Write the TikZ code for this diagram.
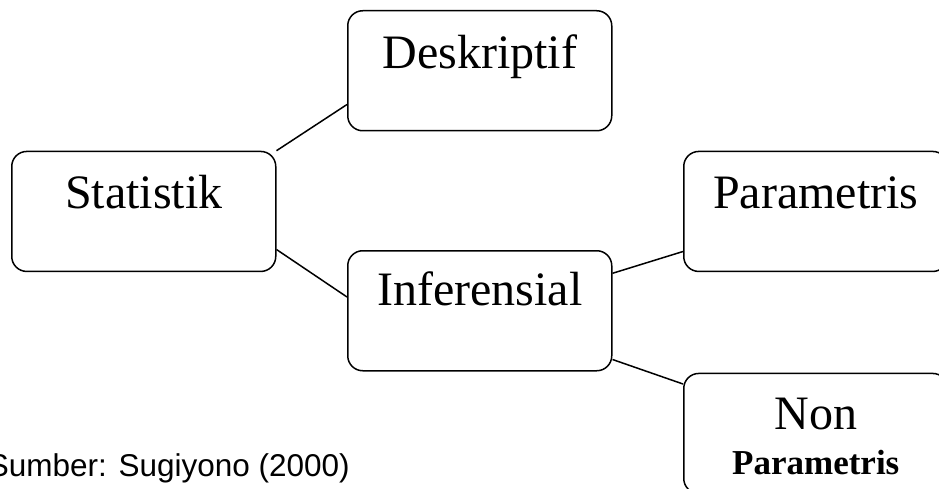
\documentclass[tikz,border=0pt]{standalone}
\usepackage{fontspec}
\setmainfont{Liberation Serif}
\newfontfamily\arialfont{Liberation Sans}
\begin{document}
\begin{tikzpicture}[x=1pt,y=-1pt,
  box/.style={draw=black, line width=1.5pt, rounded corners=15pt, minimum width=264pt, minimum height=120pt, inner sep=0pt, anchor=north west, fill=white},
  lbl/.style={anchor=base, inner sep=0pt, font=\fontsize{48}{58}\selectfont},
  sublbl/.style={anchor=base, inner sep=0pt, font=\fontsize{35}{40}\selectfont\bfseries},
  link/.style={draw=black, line width=1.5pt}]
\useasboundingbox (0,0) rectangle (939,489);
\clip (0,0) rectangle (939,489);
% boxes
\node[box] (stat) at (11,150.7) {};
\node[box] (desk) at (347,10) {};
\node[box] (inf) at (347,250) {};
\node[box] (par) at (683,150.7) {};
\node[box] (non) at (683,372.7) {};
% texts
\node[lbl] (tstat) at ([yshift=-57.6pt]stat.north) {Statistik};
\node[lbl] (tdesk) at ([yshift=-58.3pt]desk.north) {Deskriptif};
\node[lbl] (tinf) at ([yshift=-55pt]inf.north) {Inferensial};
\node[lbl] (tpar) at ([yshift=-57.6pt]par.north) {Parametris};
\node[lbl] (tnon) at ([yshift=-56.6pt]non.north) {Non};
\node[sublbl] (tnon2) at ([yshift=-101.3pt]non.north) {Parametris};
% connectors
\draw[link] (stat.north east) -- ([yshift=27pt]desk.south west);
\draw[link] ([yshift=22.7pt]stat.south east) -- ([yshift=-47pt]inf.north west);
\draw[link] ([yshift=-23.3pt]inf.north east) -- ([yshift=20.7pt]par.south west);
\draw[link] ([yshift=12pt]inf.south east) -- ([yshift=-11.3pt]non.north west);
% source
\node[anchor=base east, inner sep=0pt, font=\arialfont\fontsize{31.5}{36}\selectfont] (src) at (350,476) {Sumber: Sugiyono (2000)};
\end{tikzpicture}
\end{document}
